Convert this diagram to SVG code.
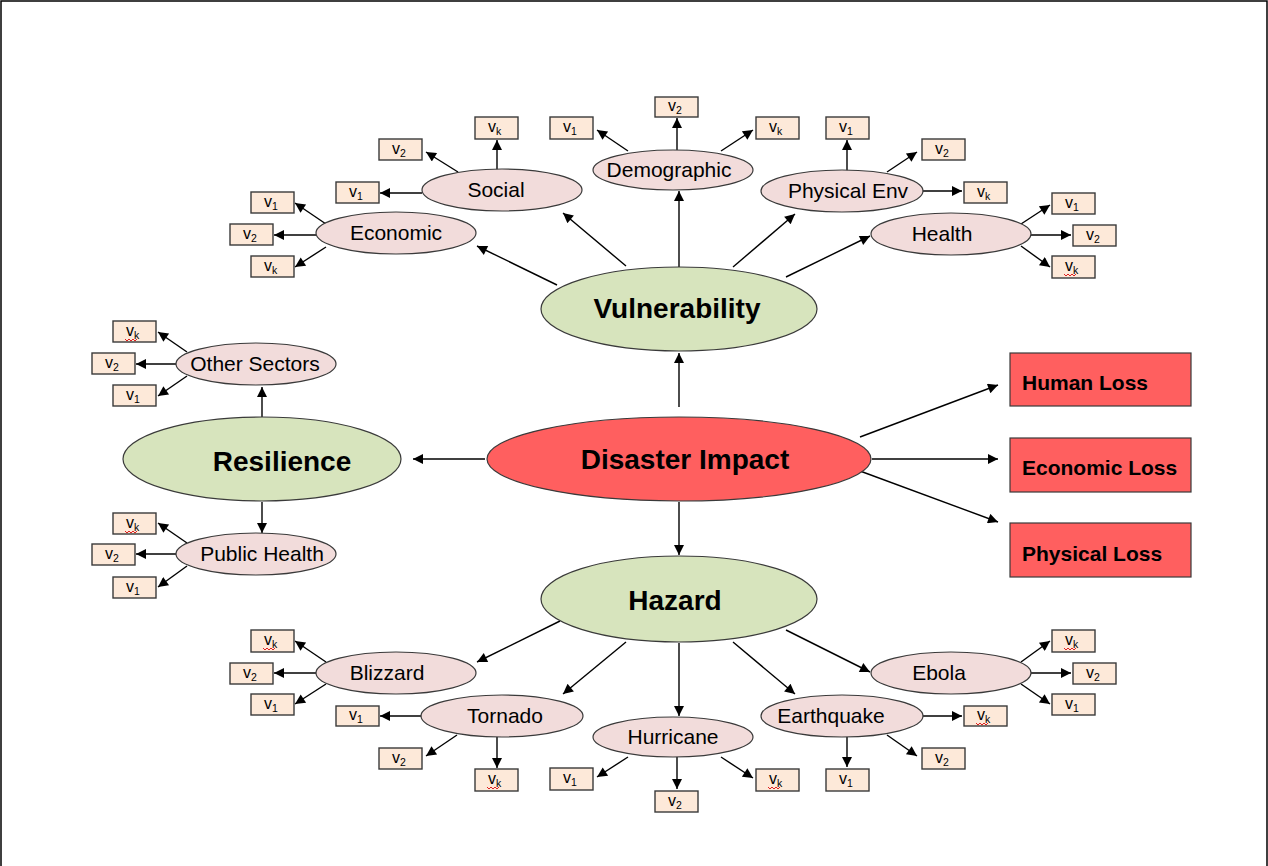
<svg xmlns="http://www.w3.org/2000/svg" width="1268" height="866" viewBox="0 0 1268 866">
<style>
.frame{fill:none;stroke:#000;stroke-width:1.5}
.green{fill:#D7E4BD;stroke:#3a3a3a;stroke-width:1.2}
.di{fill:#FF5F5F;stroke:#3a3a3a;stroke-width:1.2}
.pink{fill:#F2DCDB;stroke:#3a3a3a;stroke-width:1.2}
.box{fill:#FDE9D9;stroke:#3a3a3a;stroke-width:1.4}
.loss{fill:#FF5F5F;stroke:#3a3a3a;stroke-width:1.2}
.t{font-family:"Liberation Sans",Arial,sans-serif;fill:#000}
.big{font-size:28px;font-weight:bold;text-anchor:middle}
.mid{font-size:21px;text-anchor:middle}
.lt{font-size:21px;font-weight:bold}
.v{font-size:16px}
.sq{fill:none;stroke:#e02020;stroke-width:1}
.c line{stroke:#000;stroke-width:1.4;marker-end:url(#a)}
</style>
<defs>
<marker id="a" viewBox="0 0 10 10" refX="10" refY="5" markerWidth="12" markerHeight="10" markerUnits="userSpaceOnUse" orient="auto"><path d="M0,0 L10,5 L0,10 z" fill="#000"/></marker>
<path id="sqg" d="M0,0 l2,2 l2,-2 l2,2 l2,-2 l2,2 l2,-2" />
</defs>
<path class="frame" d="M1,866 V1 H1267 V866"/>

<g id="connectors" class="c">
<line x1="679" y1="407" x2="679" y2="353"/>
<line x1="485" y1="459" x2="413" y2="459"/>
<line x1="679" y1="502" x2="679" y2="555"/>
<line x1="860" y1="437" x2="998" y2="385"/>
<line x1="872" y1="459" x2="998" y2="459"/>
<line x1="860" y1="471" x2="998" y2="522"/>
<line x1="557" y1="285" x2="477" y2="246"/>
<line x1="626" y1="266" x2="563" y2="213"/>
<line x1="679" y1="267" x2="679" y2="191"/>
<line x1="733" y1="267" x2="795" y2="214"/>
<line x1="786" y1="277" x2="870" y2="236"/>
<line x1="262" y1="417" x2="262" y2="387"/>
<line x1="262" y1="502" x2="262" y2="533"/>
<line x1="560" y1="621" x2="477" y2="662"/>
<line x1="626" y1="642" x2="563" y2="694"/>
<line x1="679" y1="643" x2="679" y2="716"/>
<line x1="733" y1="642" x2="795" y2="694"/>
<line x1="786" y1="630" x2="870" y2="672"/>
<line x1="326" y1="224" x2="295" y2="203"/>
<line x1="316" y1="235" x2="274" y2="235"/>
<line x1="326" y1="247" x2="295" y2="267"/>
<line x1="422" y1="193" x2="380" y2="193"/>
<line x1="458" y1="172" x2="426" y2="152"/>
<line x1="497" y1="170" x2="497" y2="140"/>
<line x1="628" y1="151" x2="597" y2="130"/>
<line x1="677" y1="150" x2="677" y2="118"/>
<line x1="721" y1="151" x2="753" y2="130"/>
<line x1="847" y1="171" x2="847" y2="140"/>
<line x1="887" y1="172" x2="917" y2="152"/>
<line x1="922" y1="191" x2="962" y2="191"/>
<line x1="1021" y1="224" x2="1050" y2="205"/>
<line x1="1031" y1="235" x2="1071" y2="235"/>
<line x1="1021" y1="246" x2="1050" y2="267"/>
<line x1="187" y1="352" x2="158" y2="332"/>
<line x1="176" y1="364" x2="136" y2="364"/>
<line x1="187" y1="376" x2="158" y2="396"/>
<line x1="187" y1="543" x2="158" y2="523"/>
<line x1="176" y1="554" x2="136" y2="554"/>
<line x1="187" y1="566" x2="158" y2="587"/>
<line x1="326" y1="662" x2="295" y2="641"/>
<line x1="316" y1="673" x2="274" y2="673"/>
<line x1="326" y1="684" x2="295" y2="704"/>
<line x1="422" y1="716" x2="380" y2="716"/>
<line x1="457" y1="735" x2="426" y2="756"/>
<line x1="497" y1="737" x2="497" y2="768"/>
<line x1="628" y1="757" x2="597" y2="777"/>
<line x1="677" y1="757" x2="677" y2="789"/>
<line x1="721" y1="757" x2="753" y2="778"/>
<line x1="922" y1="716" x2="962" y2="716"/>
<line x1="887" y1="735" x2="917" y2="756"/>
<line x1="847" y1="737" x2="847" y2="767"/>
<line x1="1021" y1="662" x2="1050" y2="641"/>
<line x1="1031" y1="673" x2="1071" y2="673"/>
<line x1="1021" y1="684" x2="1050" y2="704"/>
</g>

<g id="vulnerability"><ellipse class="green" cx="679" cy="309" rx="138" ry="42"/><text class="t big" x="677" y="318">Vulnerability</text></g>
<g id="disaster-impact"><ellipse class="di" cx="679" cy="459" rx="192" ry="42"/><text class="t big" x="685" y="469">Disaster Impact</text></g>
<g id="resilience"><ellipse class="green" cx="262" cy="459" rx="139" ry="42"/><text class="t big" x="282" y="471">Resilience</text></g>
<g id="hazard"><ellipse class="green" cx="679" cy="599" rx="138" ry="43"/><text class="t big" x="675" y="610">Hazard</text></g>

<g id="human-loss"><rect class="loss" x="1010" y="353" width="181" height="53"/><text class="t lt" x="1022" y="390">Human Loss</text></g>
<g id="economic-loss"><rect class="loss" x="1010" y="438" width="181" height="54"/><text class="t lt" x="1022" y="475">Economic Loss</text></g>
<g id="physical-loss"><rect class="loss" x="1010" y="523" width="181" height="54"/><text class="t lt" x="1022" y="561">Physical Loss</text></g>

<g id="economic"><ellipse class="pink" cx="396" cy="233" rx="80" ry="21"/><text class="t mid" x="396" y="240">Economic</text></g>
<g id="social"><ellipse class="pink" cx="502" cy="190" rx="80" ry="21"/><text class="t mid" x="496" y="197">Social</text></g>
<g id="demographic"><ellipse class="pink" cx="673" cy="170" rx="80" ry="20"/><text class="t mid" x="669" y="177">Demographic</text></g>
<g id="physical-env"><ellipse class="pink" cx="842" cy="191" rx="81" ry="21"/><text class="t mid" x="848" y="198">Physical Env</text></g>
<g id="health"><ellipse class="pink" cx="951" cy="234" rx="80" ry="21"/><text class="t mid" x="942" y="241">Health</text></g>
<g id="other-sectors"><ellipse class="pink" cx="256" cy="364" rx="80" ry="21"/><text class="t mid" x="255" y="371">Other Sectors</text></g>
<g id="public-health"><ellipse class="pink" cx="256" cy="554" rx="80" ry="21"/><text class="t mid" x="262" y="561">Public Health</text></g>
<g id="blizzard"><ellipse class="pink" cx="396" cy="673" rx="80" ry="21"/><text class="t mid" x="387" y="680">Blizzard</text></g>
<g id="tornado"><ellipse class="pink" cx="502" cy="716" rx="81" ry="21"/><text class="t mid" x="505" y="723">Tornado</text></g>
<g id="hurricane"><ellipse class="pink" cx="673" cy="737" rx="80" ry="20"/><text class="t mid" x="673" y="744">Hurricane</text></g>
<g id="earthquake"><ellipse class="pink" cx="842" cy="716" rx="81" ry="21"/><text class="t mid" x="831" y="723">Earthquake</text></g>
<g id="ebola"><ellipse class="pink" cx="951" cy="673" rx="80" ry="21"/><text class="t mid" x="939" y="680">Ebola</text></g>

<g id="econ-v1"><rect class="box" x="251" y="192" width="43" height="21"/><text class="t v" x="264" y="207">v<tspan font-size="10.5" dy="3">1</tspan></text></g>
<g id="econ-v2"><rect class="box" x="230" y="224" width="43" height="21"/><text class="t v" x="243" y="239">v<tspan font-size="10.5" dy="3">2</tspan></text></g>
<g id="econ-vk"><rect class="box" x="251" y="256" width="43" height="21"/><text class="t v" x="264" y="271">v<tspan font-size="10.5" dy="3">k</tspan></text></g>
<g id="social-v1"><rect class="box" x="336" y="182" width="43" height="21"/><text class="t v" x="349" y="197">v<tspan font-size="10.5" dy="3">1</tspan></text></g>
<g id="social-v2"><rect class="box" x="379" y="139" width="43" height="21"/><text class="t v" x="392" y="154">v<tspan font-size="10.5" dy="3">2</tspan></text></g>
<g id="social-vk"><rect class="box" x="475" y="117" width="43" height="22"/><text class="t v" x="488" y="132">v<tspan font-size="10.5" dy="3">k</tspan></text></g>
<g id="demo-v1"><rect class="box" x="550" y="117" width="43" height="22"/><text class="t v" x="563" y="132">v<tspan font-size="10.5" dy="3">1</tspan></text></g>
<g id="demo-v2"><rect class="box" x="655" y="97" width="43" height="20"/><text class="t v" x="668" y="111">v<tspan font-size="10.5" dy="3">2</tspan></text></g>
<g id="demo-vk"><rect class="box" x="756" y="117" width="43" height="22"/><text class="t v" x="769" y="132">v<tspan font-size="10.5" dy="3">k</tspan></text></g>
<g id="penv-v1"><rect class="box" x="826" y="117" width="43" height="22"/><text class="t v" x="839" y="132">v<tspan font-size="10.5" dy="3">1</tspan></text></g>
<g id="penv-v2"><rect class="box" x="922" y="139" width="43" height="21"/><text class="t v" x="935" y="154">v<tspan font-size="10.5" dy="3">2</tspan></text></g>
<g id="penv-vk"><rect class="box" x="964" y="182" width="43" height="21"/><text class="t v" x="977" y="197">v<tspan font-size="10.5" dy="3">k</tspan></text></g>
<g id="health-v1"><rect class="box" x="1052" y="193" width="43" height="21"/><text class="t v" x="1065" y="208">v<tspan font-size="10.5" dy="3">1</tspan></text></g>
<g id="health-v2"><rect class="box" x="1073" y="225" width="43" height="21"/><text class="t v" x="1086" y="240">v<tspan font-size="10.5" dy="3">2</tspan></text></g>
<g id="health-vk"><rect class="box" x="1052" y="256" width="43" height="22"/><text class="t v" x="1065" y="271">v<tspan font-size="10.5" dy="3">k</tspan></text><use href="#sqg" class="sq" x="1064" y="274"/></g>

<g id="os-vk"><rect class="box" x="113" y="321" width="43" height="21"/><text class="t v" x="126" y="336">v<tspan font-size="10.5" dy="3">k</tspan></text><use href="#sqg" class="sq" x="125" y="339"/></g>
<g id="os-v2"><rect class="box" x="92" y="353" width="43" height="21"/><text class="t v" x="105" y="368">v<tspan font-size="10.5" dy="3">2</tspan></text></g>
<g id="os-v1"><rect class="box" x="113" y="385" width="43" height="21"/><text class="t v" x="126" y="400">v<tspan font-size="10.5" dy="3">1</tspan></text></g>
<g id="ph-vk"><rect class="box" x="113" y="513" width="43" height="21"/><text class="t v" x="126" y="528">v<tspan font-size="10.5" dy="3">k</tspan></text><use href="#sqg" class="sq" x="125" y="531"/></g>
<g id="ph-v2"><rect class="box" x="92" y="544" width="43" height="21"/><text class="t v" x="105" y="559">v<tspan font-size="10.5" dy="3">2</tspan></text></g>
<g id="ph-v1"><rect class="box" x="113" y="577" width="43" height="21"/><text class="t v" x="126" y="592">v<tspan font-size="10.5" dy="3">1</tspan></text></g>

<g id="bliz-vk"><rect class="box" x="251" y="630" width="43" height="22"/><text class="t v" x="264" y="645">v<tspan font-size="10.5" dy="3">k</tspan></text><use href="#sqg" class="sq" x="263" y="648"/></g>
<g id="bliz-v2"><rect class="box" x="230" y="663" width="43" height="21"/><text class="t v" x="243" y="678">v<tspan font-size="10.5" dy="3">2</tspan></text></g>
<g id="bliz-v1"><rect class="box" x="251" y="694" width="43" height="21"/><text class="t v" x="264" y="709">v<tspan font-size="10.5" dy="3">1</tspan></text></g>
<g id="torn-v1"><rect class="box" x="336" y="706" width="43" height="20"/><text class="t v" x="349" y="720">v<tspan font-size="10.5" dy="3">1</tspan></text></g>
<g id="torn-v2"><rect class="box" x="379" y="748" width="43" height="21"/><text class="t v" x="392" y="763">v<tspan font-size="10.5" dy="3">2</tspan></text></g>
<g id="torn-vk"><rect class="box" x="475" y="769" width="43" height="22"/><text class="t v" x="488" y="784">v<tspan font-size="10.5" dy="3">k</tspan></text><use href="#sqg" class="sq" x="487" y="787"/></g>
<g id="hurr-v1"><rect class="box" x="550" y="768" width="43" height="22"/><text class="t v" x="563" y="783">v<tspan font-size="10.5" dy="3">1</tspan></text></g>
<g id="hurr-v2"><rect class="box" x="655" y="791" width="43" height="21"/><text class="t v" x="668" y="806">v<tspan font-size="10.5" dy="3">2</tspan></text></g>
<g id="hurr-vk"><rect class="box" x="756" y="769" width="43" height="22"/><text class="t v" x="769" y="784">v<tspan font-size="10.5" dy="3">k</tspan></text><use href="#sqg" class="sq" x="768" y="787"/></g>
<g id="eq-vk"><rect class="box" x="964" y="706" width="43" height="20"/><text class="t v" x="977" y="720">v<tspan font-size="10.5" dy="3">k</tspan></text><use href="#sqg" class="sq" x="976" y="723"/></g>
<g id="eq-v2"><rect class="box" x="922" y="748" width="43" height="21"/><text class="t v" x="935" y="763">v<tspan font-size="10.5" dy="3">2</tspan></text></g>
<g id="eq-v1"><rect class="box" x="826" y="769" width="43" height="22"/><text class="t v" x="839" y="784">v<tspan font-size="10.5" dy="3">1</tspan></text></g>
<g id="ebola-vk"><rect class="box" x="1052" y="630" width="43" height="22"/><text class="t v" x="1065" y="645">v<tspan font-size="10.5" dy="3">k</tspan></text><use href="#sqg" class="sq" x="1064" y="648"/></g>
<g id="ebola-v2"><rect class="box" x="1073" y="663" width="43" height="21"/><text class="t v" x="1086" y="678">v<tspan font-size="10.5" dy="3">2</tspan></text></g>
<g id="ebola-v1"><rect class="box" x="1052" y="694" width="43" height="21"/><text class="t v" x="1065" y="709">v<tspan font-size="10.5" dy="3">1</tspan></text></g>
</svg>
